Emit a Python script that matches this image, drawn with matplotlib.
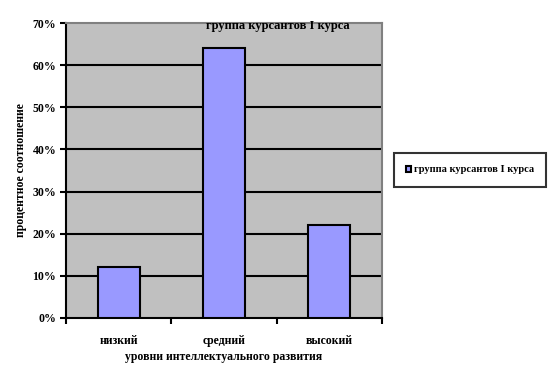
import numpy as np
import matplotlib.pyplot as plt

categories = ['низкий', 'средний', 'высокий']
values = [0.12, 0.64, 0.22]
series_name = 'группа курсантов I курса'
yticks = [0, 0.1, 0.2, 0.3, 0.4, 0.5, 0.6, 0.7]

plt.rcParams['font.family'] = ['Liberation Serif', 'DejaVu Serif']
plt.rcParams['font.weight'] = 'bold'

fig = plt.figure(figsize=(5.58, 3.76), dpi=100)
ax = fig.add_axes([66 / 558, 1 - 318 / 376, 316 / 558, 295 / 376])
ax.set_facecolor('#C0C0C0')

x = np.arange(len(categories))
ax.bar(x, values, width=0.4, color='#9999FF', edgecolor='black', linewidth=1.5,
       zorder=3, label=series_name)

ax.set_xlim(-0.5, len(categories) - 0.5)
ax.set_ylim(0, 0.7)
ax.set_yticks(yticks)
ax.set_yticklabels([f'{int(round(t * 100))}%' for t in yticks], fontsize=8.5, fontweight='bold')
for t in yticks[1:-1]:
    ax.axhline(t, color='black', linewidth=1.5, zorder=2)

# category labels between the boundary ticks
ax.set_xticks([-0.5, 0.5, 1.5, 2.5])
ax.set_xticklabels([])
ax.set_xticks(x, minor=True)
ax.set_xticklabels(categories, minor=True, fontsize=8.5, fontweight='bold')
ax.tick_params(axis='x', which='minor', length=0, pad=12)
ax.tick_params(axis='x', which='major', length=4, width=1.5)
ax.tick_params(axis='y', length=4, width=1.5, pad=3)

for side in ['top', 'right']:
    ax.spines[side].set_color('#808080')
    ax.spines[side].set_linewidth(1.5)
ax.spines['left'].set_linewidth(1.5)
ax.spines['bottom'].set_linewidth(1.5)

ax.set_xlabel('уровни интеллектуального развития', fontsize=8.5, fontweight='bold', labelpad=3)
ax.set_ylabel('процентное соотношение', fontsize=8.5, fontweight='bold', labelpad=4)

ax.text(0.67, 0.99, series_name, transform=ax.transAxes, ha='center', va='center',
        fontsize=9, fontweight='bold', zorder=5)

leg = fig.legend(loc='center', bbox_to_anchor=(470 / 558, 1 - 170 / 376),
                 frameon=True, fancybox=False, edgecolor='black',
                 handlelength=0.5, handleheight=0.5, handletextpad=0.2,
                 borderpad=1.2, prop={'weight': 'bold', 'size': 7.5})
leg.get_frame().set_linewidth(1.5)

fig.savefig('out.png', dpi=100)
